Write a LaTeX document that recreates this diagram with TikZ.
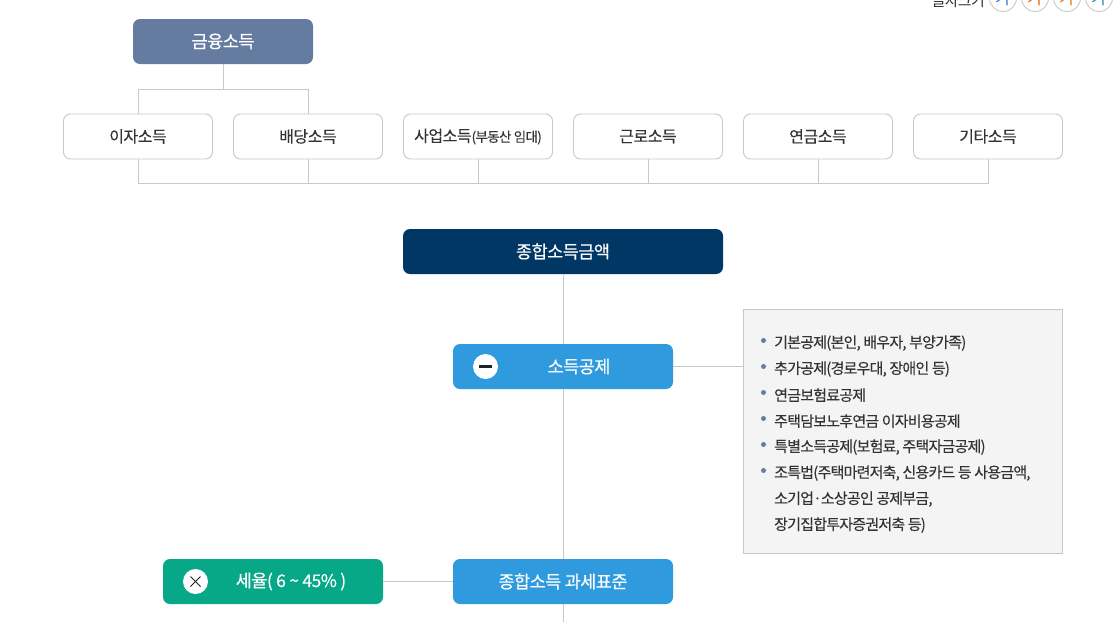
\documentclass[tikz,border=0pt]{standalone}
\usepackage{fontspec}
\setmainfont{Noto Sans CJK KR}
\definecolor{slatebox}{HTML}{667BA0}
\definecolor{navybox}{HTML}{003764}
\definecolor{bluebox}{HTML}{309ADF}
\definecolor{greenbox}{HTML}{06A888}
\definecolor{linegray}{HTML}{C8C8C8}
\definecolor{panelfill}{HTML}{F4F4F4}
\definecolor{bulletc}{HTML}{667BA0}
\definecolor{textc}{HTML}{333333}
\definecolor{signc}{HTML}{222222}
\definecolor{sizeA}{HTML}{3F86C8}
\definecolor{sizeB}{HTML}{F26A21}
\definecolor{sizeC}{HTML}{D9862B}
\definecolor{sizeD}{HTML}{3C8DB0}
\newcommand{\lowered}[1]{\raisebox{-1.5pt}{#1}}
\tikzset{
  x=1pt,y=-1pt,
  boxbase/.style={rounded corners=7pt,inner sep=0pt,minimum height=45pt,align=center},
  filledbox/.style={boxbase,text=white,font=\fontsize{17.5}{18}\selectfont\addfontfeatures{LetterSpace=-3,FakeBold=0.35}},
  incomebox/.style={boxbase,draw=linegray,line width=.9pt,fill=white,text=textc,minimum width=149pt,font=\fontsize{16}{18}\selectfont\addfontfeatures{LetterSpace=-3,FakeBold=0.1}},
  wire/.style={draw=linegray,line width=.9pt},
  signdisc/.style={circle,fill=white,minimum size=25pt,inner sep=0pt},
  sizedisc/.style={circle,draw=linegray,fill=white,line width=.9pt,minimum size=27pt,inner sep=0pt,font=\fontsize{17}{17}\selectfont},
  listline/.style={anchor=west,inner sep=0pt,text=textc,font=\fontsize{15}{18}\selectfont\addfontfeatures{LetterSpace=-5.2,FakeBold=0.1}},
  dotmark/.style={circle,fill=bulletc,minimum size=5pt,inner sep=0pt},
  signstroke/.style={draw=signc}
}
\begin{document}
\begin{tikzpicture}
\useasboundingbox (0,0) rectangle (1114,622);
\clip (0,0) rectangle (1114,622);
% top control
\node[anchor=base east,inner sep=0pt,font=\fontsize{15}{15}\selectfont\addfontfeatures{LetterSpace=-5},text=textc] (sizelabel) at (985,6) {글자크기};
\node[sizedisc,text=sizeA] (s1) at (1003,-2) {\raisebox{-3pt}{가}};
\node[sizedisc,text=sizeB] (s2) at (1035,-2) {\raisebox{-3pt}{가}};
\node[sizedisc,text=sizeC] (s3) at (1067,-2) {\raisebox{-3pt}{가}};
\node[sizedisc,text=sizeD] (s4) at (1099,-2) {\raisebox{-3pt}{가}};
% free coordinates and junctions
\coordinate (bottomend) at (563,622);
\coordinate (topleft) at (138,89);
\coordinate (topright) at (308,89);
\coordinate (topmid) at (223,89);
\coordinate (busend) at (138,183);
% nodes
\node[filledbox,fill=slatebox,minimum width=180pt] (fin) at (223,41.5) {\lowered{금융소득}};
\node[incomebox] (a) at (138,136.5) {\lowered{이자소득}};
\node[incomebox] (b) at (308,136.5) {\lowered{배당소득}};
\node[incomebox] (c) at (478,136.5) {\lowered{사업소득{\fontsize{13.5}{15}\selectfont\addfontfeatures{LetterSpace=-5}(부동산 임대)}}};
\node[incomebox] (d) at (648,136.5) {\lowered{근로소득}};
\node[incomebox] (e) at (818,136.5) {\lowered{연금소득}};
\node[incomebox] (f) at (988,136.5) {\lowered{기타소득}};
\node[filledbox,fill=navybox,minimum width=320pt] (total) at (563,251.5) {\lowered{종합소득금액}};
\node[filledbox,fill=bluebox,minimum width=220pt] (ded) at (563,366.5) {\lowered{\hspace*{32pt}소득공제}};
\node[filledbox,fill=bluebox,minimum width=220pt] (base) at (563,581.5) {\lowered{종합소득 과세표준}};
\node[filledbox,fill=greenbox,minimum width=220pt] (rate) at (273,581.5) {\lowered{\hspace*{36pt}세율( 6 \textasciitilde{} 45\% )}};
\node[draw=linegray,fill=panelfill,line width=.9pt,minimum width=319pt,minimum height=244pt,inner sep=0pt] (panel) at (903,431.5) {};
% connectors
\draw[wire] (fin.south) -- (topmid);
\draw[wire] (a.north) -- (topleft) -- (topright) -- (b.north);
\draw[wire] (a.south) -- (busend) -| (b.south);
\draw[wire] (busend) -| (c.south);
\draw[wire] (busend) -| (d.south);
\draw[wire] (busend) -| (e.south);
\draw[wire] (busend) -| (f.south);
\draw[wire] (total.south) -- (ded.north);
\draw[wire] (ded.south) -- (base.north);
\draw[wire] (base.south) -- (bottomend);
\draw[wire] (ded.east) -- (panel.west |- ded.east);
\draw[wire] (rate.east) -- (base.west);
% signs
\node[signdisc] (minus) at (485.5,366.5) {};
\path[signstroke,line width=2.2pt] ([xshift=-6.5pt]minus.center) edge ([xshift=6.5pt]minus.center);
\node[signdisc] (times) at (195.5,581.5) {};
\draw[signstroke,line width=.9pt] ([shift={(-5pt,-5pt)}]times.center) -- ([shift={(5pt,5pt)}]times.center);
\draw[signstroke,line width=.9pt] ([shift={(-5pt,5pt)}]times.center) -- ([shift={(5pt,-5pt)}]times.center);
% list
\node[dotmark] (d1) at (763.5,340.5) {};
\node[dotmark] (d2) at (763.5,366.5) {};
\node[dotmark] (d3) at (763.5,392.5) {};
\node[dotmark] (d4) at (763.5,418.5) {};
\node[dotmark] (d5) at (763.5,444.5) {};
\node[dotmark] (d6) at (763.5,470.5) {};
\node[listline] (l1) at (774,343.1) {기본공제(본인, 배우자, 부양가족)};
\node[listline] (l2) at (774,369.1) {추가공제(경로우대, 장애인 등)};
\node[listline] (l3) at (774,395.1) {연금보험료공제};
\node[listline] (l4) at (774,421.1) {주택담보노후연금 이자비용공제};
\node[listline] (l5) at (774,447.1) {특별소득공제(보험료, 주택자금공제)};
\node[listline] (l6) at (774,473.1) {조특법(주택마련저축, 신용카드 등 사용금액,};
\node[listline] (l7) at (774,499.1) {소기업·소상공인 공제부금,};
\node[listline] (l8) at (774,525.1) {장기집합투자증권저축 등)};
\end{tikzpicture}
\end{document}
